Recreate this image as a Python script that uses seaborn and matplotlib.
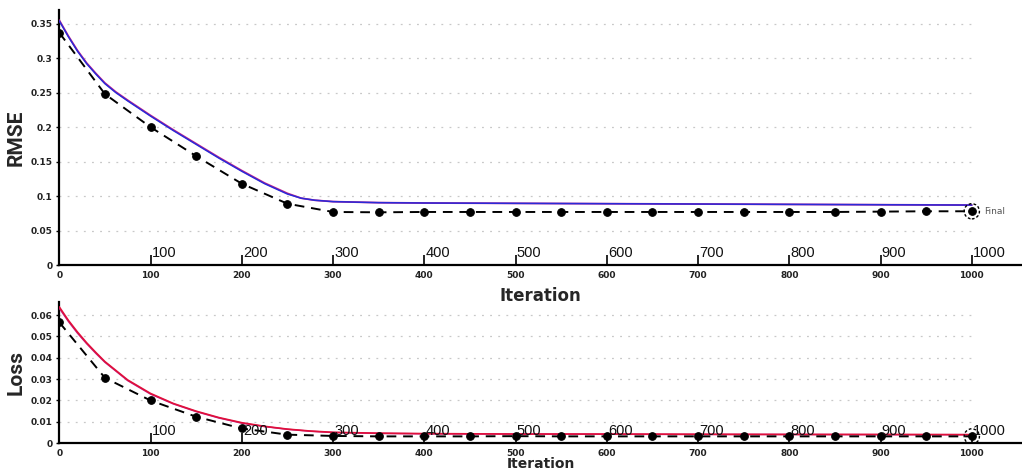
import matplotlib
matplotlib.use("Agg")
import matplotlib.pyplot as plt
import matplotlib.transforms as mtransforms
import seaborn as sns

# ---------------- data ----------------
tick_iters = [0, 100, 200, 300, 400, 500, 600, 700, 800, 900, 1000]
big_labels = ["100", "200", "300", "400", "500", "600", "700", "800", "900", "1000"]

marker_iters = [0, 50, 100, 150, 200, 250, 300, 350, 400, 450, 500,
                550, 600, 650, 700, 750, 800, 850, 900, 950, 1000]
rmse_marked = [0.337, 0.248, 0.200, 0.158, 0.118, 0.089, 0.077, 0.0765, 0.077, 0.077, 0.077,
               0.077, 0.077, 0.077, 0.077, 0.077, 0.077, 0.077, 0.0775, 0.078, 0.078]
loss_marked = [0.0566, 0.0306, 0.0200, 0.0124, 0.0069, 0.0040, 0.0034, 0.0032, 0.0032, 0.0032, 0.0033,
               0.0032, 0.0032, 0.0032, 0.0032, 0.0032, 0.0032, 0.0032, 0.0032, 0.0032, 0.0032]

curve_iters = [0, 10, 20, 30, 40, 50, 62, 75, 100, 125, 150, 175, 200, 225, 250, 265, 280,
               300, 350, 400, 500, 600, 700, 800, 900, 1000]
rmse_blue = [0.354, 0.331, 0.310, 0.292, 0.277, 0.263, 0.250, 0.238, 0.216, 0.195, 0.175,
             0.155, 0.136, 0.118, 0.103, 0.097, 0.094, 0.092, 0.0905, 0.0900, 0.0895,
             0.0890, 0.0885, 0.0880, 0.0875, 0.0870]
rmse_magenta = [0.355, 0.332, 0.311, 0.293, 0.278, 0.264, 0.251, 0.239, 0.217, 0.196, 0.176,
                0.156, 0.137, 0.119, 0.104, 0.097, 0.094, 0.092, 0.0905, 0.0900, 0.0895,
                0.0890, 0.0885, 0.0880, 0.0875, 0.0870]

loss_iters = [0, 10, 20, 30, 40, 50, 75, 100, 125, 150, 175, 200, 225, 250, 275, 300,
              350, 400, 500, 600, 700, 800, 900, 1000]
loss_red = [0.0638, 0.0575, 0.0520, 0.0470, 0.0425, 0.0382, 0.0296, 0.0233, 0.0186, 0.0150,
            0.0120, 0.0096, 0.0079, 0.0066, 0.0057, 0.0051, 0.0047, 0.0045, 0.0043, 0.0043,
            0.0042, 0.0041, 0.0041, 0.0040]
loss_magenta = [0.0632, 0.0570, 0.0515, 0.0466, 0.0421, 0.0379, 0.0293, 0.0230, 0.0184, 0.0148,
                0.0118, 0.0094, 0.0078, 0.0065, 0.0056, 0.0050, 0.0046, 0.0044, 0.0043, 0.0042,
                0.0041, 0.0041, 0.0040, 0.0040]

rmse_yticks = [0, 0.05, 0.1, 0.15, 0.2, 0.25, 0.3, 0.35]
rmse_ylabels = ["0", "0.05", "0.1", "0.15", "0.2", "0.25", "0.3", "0.35"]
loss_yticks = [0, 0.01, 0.02, 0.03, 0.04, 0.05, 0.06]
loss_ylabels = ["0", "0.01", "0.02", "0.03", "0.04", "0.05", "0.06"]

# ---------------- style ----------------
sns.set_theme(style="white")
plt.rcParams["font.family"] = ["DejaVu Sans"]

fig = plt.figure(figsize=(10.22, 4.70), dpi=100)
ax1 = fig.add_axes([0.058, 0.436, 0.942, 0.543])
ax2 = fig.add_axes([0.058, 0.057, 0.942, 0.300])

narrow = ["Liberation Sans Narrow", "Roboto", "DejaVu Sans"]


def style_axis(ax, yticks, ylabels, ylim, ylab, xlab_y, xlab_size):
    ax.set_xlim(0, 1055)
    ax.set_ylim(*ylim)
    for s in ["top", "right"]:
        ax.spines[s].set_visible(False)
    for s in ["left", "bottom"]:
        ax.spines[s].set_color("black")
        ax.spines[s].set_linewidth(1.6)
    ax.hlines(yticks[1:], 0, 1000, colors="#c8c8c8", linestyles=(0, (1.5, 5)),
              linewidth=0.9, zorder=0)
    ax.set_xticks(tick_iters)
    ax.set_xticklabels([str(t) for t in tick_iters], fontsize=6.5, fontweight="bold",
                       color="#222222")
    ax.tick_params(axis="x", direction="in", length=7, width=1.2, pad=4, bottom=True,
                   color="black")
    ax.set_yticks(yticks)
    ax.set_yticklabels(ylabels, fontsize=6.5, fontweight="bold", color="#222222")
    ax.tick_params(axis="y", direction="out", length=2, width=1.0, pad=3, left=True,
                   color="black")
    ax.set_ylabel(ylab, fontsize=15, fontweight="bold", family=narrow)
    ax.yaxis.set_label_coords(-0.035, 0.5)
    ax.set_xlabel("Iteration", fontsize=xlab_size, fontweight="bold")
    ax.xaxis.set_label_coords(0.5, xlab_y)
    trans = mtransforms.blended_transform_factory(ax.transData, ax.transAxes)
    off = mtransforms.offset_copy(trans, fig=fig, x=1, y=5, units="dots")
    for t, lab in zip(tick_iters[1:], big_labels):
        ax.text(t, 0, lab, transform=off, ha="left", va="bottom", fontsize=10.5,
                family=["Liberation Sans", "DejaVu Sans"], color="#111111", zorder=5)


# ---------------- top: RMSE ----------------
sns.lineplot(x=curve_iters, y=rmse_magenta, ax=ax1, color="#c0208a", linewidth=1.3,
             estimator=None, zorder=3)
sns.lineplot(x=curve_iters, y=rmse_blue, ax=ax1, color="#2a2ad8", linewidth=1.1,
             estimator=None, zorder=3)
sns.lineplot(x=marker_iters, y=rmse_marked, ax=ax1, color="black", linewidth=1.4,
             linestyle=(0, (5, 3.5)), marker="o", markersize=5.5, markeredgecolor="black",
             estimator=None, zorder=4)
ax1.scatter([marker_iters[-1]], [rmse_marked[-1]], s=120, facecolors="none",
            edgecolors="black", linestyles=(0, (2, 1.5)), linewidths=1.0, zorder=5)
ax1.annotate("Final", (marker_iters[-1], rmse_marked[-1]), xytext=(9, 0),
             textcoords="offset points", fontsize=6.5, color="#555555", va="center")
style_axis(ax1, rmse_yticks, rmse_ylabels, (0, 0.37), "RMSE", -0.086, 12)

# ---------------- bottom: Loss ----------------
sns.lineplot(x=loss_iters, y=loss_magenta, ax=ax2, color="#c0208a", linewidth=1.1,
             estimator=None, zorder=3)
sns.lineplot(x=loss_iters, y=loss_red, ax=ax2, color="#e0103a", linewidth=1.2,
             estimator=None, zorder=3)
sns.lineplot(x=marker_iters, y=loss_marked, ax=ax2, color="black", linewidth=1.4,
             linestyle=(0, (5, 3.5)), marker="o", markersize=5.5, markeredgecolor="black",
             estimator=None, zorder=4)
ax2.scatter([marker_iters[-1]], [loss_marked[-1]], s=120, facecolors="none",
            edgecolors="black", linestyles=(0, (2, 1.5)), linewidths=1.0, zorder=5)
style_axis(ax2, loss_yticks, loss_ylabels, (0, 0.066), "Loss", -0.095, 10)

fig.savefig("out.png", dpi=100)
